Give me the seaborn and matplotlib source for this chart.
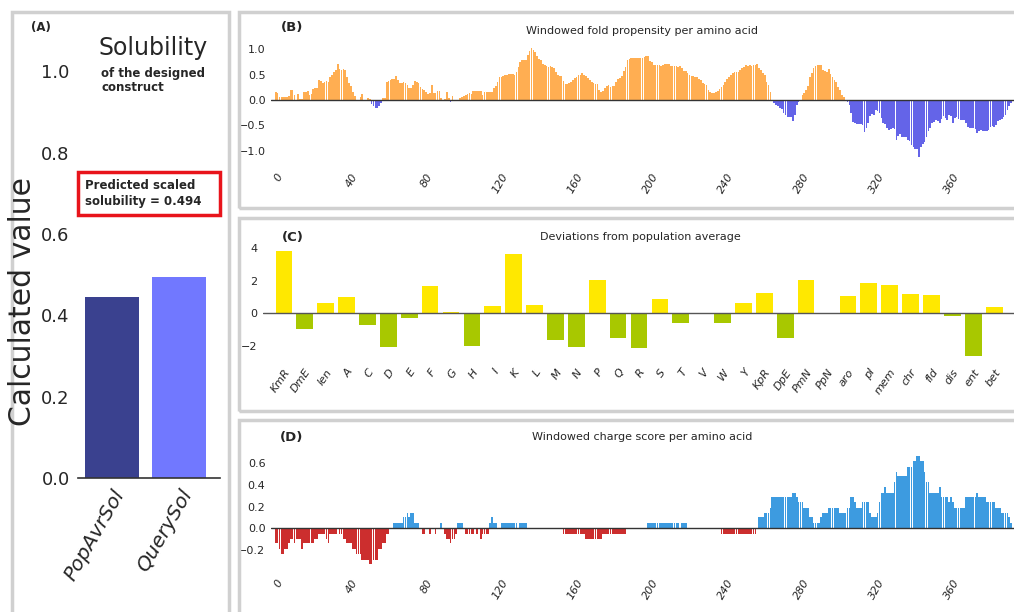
import numpy as np
import pandas as pd
import matplotlib
matplotlib.use("Agg")
import matplotlib.pyplot as plt
from matplotlib.patches import Rectangle
import seaborn as sns

# (A) solubility
sol_labels = ["PopAvrSol", "QuerySol"]
sol_values = [0.446, 0.494]

# (B) windowed fold propensity, one value per residue
fold_values = [
    0.16, 0.14, 0.05, 0.06, 0.06, 0.06, 0.06, 0.07, 0.20, 0.19,
    0.10, 0.00, 0.12, 0.02, 0.02, 0.15, 0.15, 0.17, 0.10, 0.11,
    0.22, 0.24, 0.23, 0.40, 0.38, 0.34, 0.36, 0.38, 0.35, 0.46,
    0.50, 0.56, 0.60, 0.72, 0.62, 0.60, 0.62, 0.60, 0.46, 0.33,
    0.28, 0.16, 0.08, 0.00, 0.00, 0.05, 0.12, 0.00, 0.00, 0.03,
    0.02, -0.08, -0.12, -0.16, -0.15, -0.12, -0.05, 0.03, 0.03, 0.36,
    0.38, 0.40, 0.41, 0.42, 0.47, 0.40, 0.34, 0.34, 0.35, 0.33,
    0.30, 0.23, 0.24, 0.30, 0.38, 0.35, 0.33, 0.26, 0.22, 0.20,
    0.15, 0.12, 0.13, 0.30, 0.14, 0.13, 0.18, 0.17, 0.04, 0.01,
    0.02, 0.16, 0.03, -0.04, 0.07, 0.00, 0.01, 0.01, 0.03, 0.05,
    0.07, 0.09, 0.12, 0.13, 0.12, 0.18, 0.18, 0.17, 0.18, 0.17,
    0.10, 0.16, 0.16, 0.16, 0.16, 0.15, 0.24, 0.28, 0.36, 0.45,
    0.45, 0.47, 0.49, 0.50, 0.52, 0.52, 0.51, 0.50, 0.55, 0.65,
    0.74, 0.78, 0.79, 0.78, 0.88, 0.96, 1.02, 0.98, 0.94, 0.87,
    0.80, 0.78, 0.72, 0.70, 0.68, 0.66, 0.67, 0.66, 0.64, 0.55,
    0.50, 0.48, 0.47, 0.38, 0.32, 0.31, 0.33, 0.36, 0.40, 0.44,
    0.46, 0.49, 0.50, 0.54, 0.50, 0.47, 0.43, 0.40, 0.35, 0.34,
    0.32, 0.32, 0.20, 0.16, 0.18, 0.24, 0.27, 0.30, 0.26, 0.27,
    0.28, 0.36, 0.41, 0.44, 0.48, 0.58, 0.66, 0.78, 0.81, 0.82,
    0.82, 0.82, 0.82, 0.83, 0.82, 0.83, 0.84, 0.86, 0.86, 0.76,
    0.75, 0.70, 0.69, 0.70, 0.69, 0.68, 0.69, 0.72, 0.72, 0.71,
    0.68, 0.67, 0.67, 0.68, 0.66, 0.67, 0.64, 0.58, 0.57, 0.54,
    0.50, 0.48, 0.47, 0.46, 0.45, 0.42, 0.40, 0.34, 0.31, 0.29,
    0.20, 0.16, 0.14, 0.14, 0.15, 0.18, 0.22, 0.26, 0.30, 0.36,
    0.42, 0.46, 0.50, 0.54, 0.56, 0.56, 0.56, 0.60, 0.64, 0.66,
    0.69, 0.68, 0.69, 0.68, 0.69, 0.70, 0.71, 0.64, 0.59, 0.53,
    0.49, 0.36, 0.30, 0.16, 0.00, -0.06, -0.10, -0.12, -0.16, -0.18,
    -0.26, -0.30, -0.33, -0.33, -0.34, -0.41, -0.30, -0.10, -0.03, -0.02,
    0.10, 0.13, 0.20, 0.28, 0.45, 0.54, 0.64, 0.68, 0.70, 0.70,
    0.69, 0.60, 0.58, 0.56, 0.62, 0.52, 0.46, 0.40, 0.36, 0.26,
    0.20, 0.10, 0.06, 0.01, -0.04, -0.10, -0.25, -0.43, -0.46, -0.47,
    -0.47, -0.48, -0.50, -0.63, -0.55, -0.45, -0.32, -0.28, -0.30, -0.20,
    -0.22, -0.26, -0.36, -0.46, -0.47, -0.55, -0.59, -0.58, -0.56, -0.57,
    -0.79, -0.70, -0.68, -0.72, -0.72, -0.73, -0.78, -0.80, -0.88, -0.92,
    -0.97, -0.96, -1.13, -0.92, -0.86, -0.82, -0.72, -0.62, -0.56, -0.46,
    -0.43, -0.39, -0.41, -0.45, -0.38, -0.32, -0.36, -0.39, -0.30, -0.32,
    -0.46, -0.36, -0.33, -0.38, -0.39, -0.40, -0.39, -0.46, -0.53, -0.55,
    -0.56, -0.55, -0.57, -0.66, -0.62, -0.60, -0.61, -0.62, -0.61, -0.60,
    -0.54, -0.52, -0.53, -0.50, -0.42, -0.39, -0.38, -0.33, -0.30, -0.20,
    -0.12, -0.06,
]

# (C) deviations from population average
dev_labels = ["KmR", "DmE", "len", "A", "C", "D", "E", "F", "G", "H", "I", "K",
              "L", "M", "N", "P", "Q", "R", "S", "T", "V", "W", "Y", "KpR",
              "DpE", "PmN", "PpN", "aro", "pI", "mem", "chr", "fld", "dis",
              "ent", "bet"]
dev_values = [3.86, -0.96, 0.62, 0.98, -0.72, -2.05, -0.31, 1.66, 0.08, -2.01,
              0.45, 3.63, 0.51, -1.64, -2.09, 2.05, -1.54, -2.15, 0.90, -0.57,
              0.02, -0.60, 0.62, 1.27, -1.52, 2.07, -0.04, 1.05, 1.87, 1.74,
              1.17, 1.11, -0.14, -2.60, 0.41]

# (D) windowed charge score, one value per residue
charge_values = [
    -0.14, -0.14, -0.19, -0.24, -0.24, -0.19, -0.19, -0.14, -0.10, -0.10,
    -0.14, -0.10, -0.10, -0.10, -0.19, -0.14, -0.14, -0.14, -0.14, -0.14,
    -0.14, -0.10, -0.10, -0.05, -0.05, -0.05, -0.05, -0.10, -0.14, -0.05,
    -0.05, -0.05, -0.05, 0.00, -0.05, -0.05, -0.10, -0.10, -0.14, -0.14,
    -0.14, -0.19, -0.19, -0.24, -0.24, -0.24, -0.29, -0.29, -0.29, -0.29,
    -0.33, -0.33, -0.29, -0.29, -0.29, -0.19, -0.19, -0.14, -0.14, -0.05,
    -0.05, 0.00, 0.00, 0.05, 0.05, 0.05, 0.05, 0.05, 0.10, 0.10,
    0.14, 0.10, 0.14, 0.14, 0.05, 0.05, 0.05, 0.00, -0.05, -0.05,
    0.00, 0.00, -0.05, 0.00, 0.00, -0.05, 0.00, 0.00, 0.05, 0.00,
    -0.05, -0.10, -0.10, -0.14, -0.10, -0.10, -0.05, 0.05, 0.05, 0.05,
    0.00, -0.05, -0.05, -0.05, -0.05, -0.05, 0.00, -0.05, 0.00, -0.10,
    -0.05, -0.05, -0.05, -0.05, 0.05, 0.10, 0.05, 0.05, 0.00, 0.00,
    0.05, 0.05, 0.05, 0.05, 0.05, 0.05, 0.05, 0.05, 0.05, 0.00,
    0.05, 0.05, 0.05, 0.05, 0.00, 0.00, 0.00, 0.00, 0.00, 0.00,
    0.00, 0.00, 0.00, 0.00, 0.00, 0.00, 0.00, 0.00, 0.00, 0.00,
    0.00, 0.00, 0.00, -0.05, -0.05, -0.05, -0.05, -0.05, -0.05, -0.05,
    -0.05, -0.05, -0.05, -0.05, -0.05, -0.10, -0.10, -0.10, -0.10, -0.10,
    -0.10, -0.10, -0.10, -0.10, -0.05, -0.05, -0.05, -0.05, -0.05, -0.05,
    -0.05, -0.05, -0.05, -0.05, -0.05, -0.05, -0.05, 0.00, 0.00, 0.00,
    0.00, 0.00, 0.00, 0.00, 0.00, 0.00, 0.00, 0.00, 0.05, 0.05,
    0.05, 0.05, 0.05, 0.05, 0.05, 0.05, 0.05, 0.05, 0.05, 0.05,
    0.05, 0.05, 0.05, 0.05, 0.05, 0.00, 0.05, 0.05, 0.05, 0.00,
    0.00, 0.00, 0.00, 0.00, 0.00, 0.00, 0.00, 0.00, 0.00, 0.00,
    0.00, 0.00, 0.00, 0.00, 0.00, 0.00, 0.00, -0.05, -0.05, -0.05,
    -0.05, -0.05, -0.05, -0.05, -0.05, -0.05, -0.05, -0.05, -0.05, -0.05,
    -0.05, -0.05, -0.05, -0.05, -0.05, -0.05, 0.00, 0.10, 0.10, 0.10,
    0.14, 0.14, 0.14, 0.19, 0.29, 0.29, 0.29, 0.29, 0.29, 0.29,
    0.29, 0.29, 0.29, 0.29, 0.29, 0.33, 0.33, 0.29, 0.24, 0.24,
    0.24, 0.19, 0.19, 0.19, 0.10, 0.10, 0.05, 0.05, 0.05, 0.05,
    0.10, 0.14, 0.14, 0.14, 0.19, 0.19, 0.19, 0.19, 0.19, 0.19,
    0.14, 0.14, 0.14, 0.14, 0.19, 0.19, 0.29, 0.29, 0.24, 0.19,
    0.19, 0.19, 0.24, 0.24, 0.24, 0.24, 0.14, 0.10, 0.10, 0.10,
    0.14, 0.24, 0.33, 0.33, 0.38, 0.33, 0.33, 0.33, 0.33, 0.43,
    0.52, 0.48, 0.48, 0.48, 0.48, 0.48, 0.57, 0.57, 0.57, 0.62,
    0.62, 0.67, 0.67, 0.62, 0.62, 0.52, 0.43, 0.43, 0.33, 0.33,
    0.33, 0.33, 0.33, 0.38, 0.29, 0.29, 0.29, 0.29, 0.24, 0.29,
    0.24, 0.19, 0.19, 0.19, 0.19, 0.19, 0.19, 0.29, 0.29, 0.29,
    0.29, 0.29, 0.29, 0.33, 0.29, 0.29, 0.29, 0.29, 0.24, 0.24,
    0.24, 0.24, 0.24, 0.19, 0.19, 0.19, 0.14, 0.14, 0.14, 0.14,
    0.10, 0.05,
]

residue_ticks = [0, 40, 80, 120, 160, 200, 240, 280, 320, 360]

W, H = 1014, 612


def fig_rect(x0, y0, x1, y1):
    # pixel box (top-left origin) -> figure fraction [l, b, w, h]
    return [x0 / W, 1 - y1 / H, (x1 - x0) / W, (y1 - y0) / H]


def fig_text(x, y, s, **kw):
    return fig.text(x / W, 1 - y / H, s, **kw)


def signed_bars(ax, values, pos_color, neg_color, width):
    df = pd.DataFrame({"res": np.arange(len(values)), "val": values})
    df["sign"] = np.where(df["val"] >= 0, "pos", "neg")
    sns.barplot(data=df, x="res", y="val", hue="sign",
                palette={"pos": pos_color, "neg": neg_color},
                native_scale=True, dodge=False, legend=False, saturation=1,
                width=width, linewidth=0, ax=ax)


sns.set_style("white")
plt.rcParams["font.family"] = ["DejaVu Sans"]

fig = plt.figure(figsize=(W / 100, H / 100), dpi=100)

# panel frames
for (x0, y0, x1, y1) in [(12, 12, 229, 640), (239, 12, 1030, 208),
                         (239, 218, 1030, 411), (239, 420, 1030, 640)]:
    fig.patches.append(Rectangle((x0 / W, 1 - y1 / H), (x1 - x0) / W, (y1 - y0) / H,
                                 transform=fig.transFigure, fill=False,
                                 edgecolor="#d0d0d0", linewidth=2.5))

# ---- (A)
axA = fig.add_axes(fig_rect(78, 51, 220, 478))
sns.barplot(x=sol_labels, y=sol_values, hue=sol_labels,
            palette=["#3a418f", "#7178ff"], legend=False, width=0.8,
            saturation=1, linewidth=0, ax=axA)
axA.set_xlim(-0.5, 1.6)
axA.set_ylim(0, 1.05)
axA.set_yticks([0.0, 0.2, 0.4, 0.6, 0.8, 1.0])
axA.set_yticklabels(["0.0", "0.2", "0.4", "0.6", "0.8", "1.0"], fontsize=13)
axA.set_xticks([0, 1])
axA.set_xticklabels(sol_labels, rotation=60, ha="right", rotation_mode="anchor",
                    fontsize=14.5, style="italic")
axA.tick_params(axis="y", length=0, pad=6)
axA.tick_params(axis="x", length=0, pad=6)
axA.set_ylabel("")
axA.set_xlabel("")
for s in ["top", "right", "left"]:
    axA.spines[s].set_visible(False)
axA.spines["bottom"].set_color("#333333")
axA.spines["bottom"].set_linewidth(1.2)
axA.patch.set_alpha(0)

fig_text(23, 302, "Calculated value", fontsize=21.5, rotation=90, ha="center", va="center")
fig_text(41, 28, "(A)", fontsize=8.5, fontweight="bold", ha="center", va="center")
fig_text(99, 48, "Solubility", fontsize=17, ha="left", va="center")
fig_text(101, 67, "of the designed\nconstruct", fontsize=8.5,
         fontweight="bold", ha="left", va="top", linespacing=1.1)
fig.patches.append(Rectangle((78 / W, 1 - 215 / H), 142 / W, 43 / H,
                             transform=fig.transFigure, facecolor="white",
                             edgecolor="#e8141b", linewidth=2.5, zorder=5))
fig_text(85, 193.5, "Predicted scaled\nsolubility = 0.494", fontsize=8.5,
         fontweight="bold", ha="left", va="center", linespacing=1.25, zorder=6)

# ---- (B)
axB = fig.add_axes(fig_rect(271, 41.7, 1014, 163.4))
signed_bars(axB, fold_values, "#ffae52", "#6464e8", 0.88)
axB.axhline(0, color="#333333", linewidth=1.0)
axB.set_xlim(-2.5, 392.5)
axB.set_ylim(-1.25, 1.15)
axB.set_yticks([-1.0, -0.5, 0.0, 0.5, 1.0])
axB.set_yticklabels(["\u22121.0", "\u22120.5", "0.0", "0.5", "1.0"], fontsize=8)
fig_text(642, 31, "Windowed fold propensity per amino acid", fontsize=8, ha="center", va="center")
fig_text(292, 28, "(B)", fontsize=9.5, fontweight="bold", ha="center", va="center")

# ---- (C)
axC = fig.add_axes(fig_rect(263, 238.6, 1014, 358.8))
dev_df = pd.DataFrame({"label": dev_labels, "val": dev_values})
dev_df["sign"] = np.where(dev_df["val"] >= 0, "pos", "neg")
sns.barplot(data=dev_df, x="label", y="val", hue="sign",
            palette={"pos": "#ffe800", "neg": "#a8c800"}, dodge=False,
            legend=False, width=0.8, saturation=1, linewidth=0, ax=axC)
axC.axhline(0, color="#555555", linewidth=1.0)
axC.set_xlim(-1.0, 34.95)
axC.set_ylim(-2.8, 4.6)
axC.set_yticks([-2, 0, 2, 4])
axC.set_yticklabels(["\u22122", "0", "2", "4"], fontsize=8)
axC.set_xticks(range(len(dev_labels)))
axC.set_xticklabels(dev_labels, rotation=55, ha="right", rotation_mode="anchor",
                    fontsize=8, style="italic")
fig_text(640, 237, "Deviations from population average", fontsize=8, ha="center", va="center")
fig_text(293, 238, "(C)", fontsize=9.5, fontweight="bold", ha="center", va="center")

# ---- (D)
axD = fig.add_axes(fig_rect(271, 450.5, 1014, 569.3))
signed_bars(axD, charge_values, "#3d9be0", "#cc2e2e", 0.88)
axD.axhline(0, color="#333333", linewidth=1.0)
axD.set_xlim(-2.5, 392.5)
axD.set_ylim(-0.38, 0.72)
axD.set_yticks([-0.2, 0.0, 0.2, 0.4, 0.6])
axD.set_yticklabels(["\u22120.2", "0.0", "0.2", "0.4", "0.6"], fontsize=8)
fig_text(642, 437, "Windowed charge score per amino acid", fontsize=8, ha="center", va="center")
fig_text(292, 438, "(D)", fontsize=9.5, fontweight="bold", ha="center", va="center")

for ax in (axB, axD):
    ax.set_xticks(residue_ticks)
    ax.set_xticklabels([str(t) for t in residue_ticks], rotation=60, ha="right",
                       rotation_mode="anchor", fontsize=8, style="italic")

for ax in (axB, axC, axD):
    ax.set_xlabel("")
    ax.set_ylabel("")
    ax.tick_params(axis="y", length=0, pad=4)
    ax.tick_params(axis="x", length=0, pad=6)
    for s in ax.spines.values():
        s.set_visible(False)
    ax.patch.set_alpha(0)

fig.savefig("out.png", dpi=100)
